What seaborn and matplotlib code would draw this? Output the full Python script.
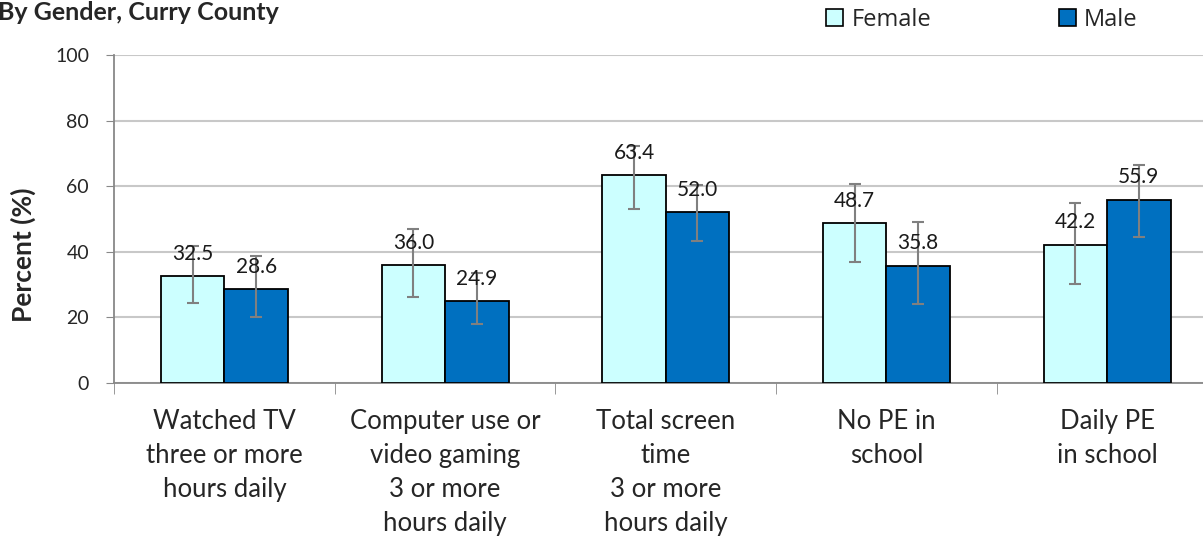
import pandas as pd
import matplotlib
matplotlib.use("Agg")
import matplotlib.pyplot as plt
import seaborn as sns
from matplotlib.patches import Patch

# dados
categorias = ["Watched TV\nthree or more\nhours daily",
              "Computer use or\nvideo gaming\n3 or more\nhours daily",
              "Total screen\ntime\n3 or more\nhours daily",
              "No PE in\nschool",
              "Daily PE\nin school"]
generos = ["Female", "Male"]
female = [32.5, 36.0, 63.4, 48.7, 42.2]
male = [28.6, 24.9, 52.0, 35.8, 55.9]
female_lo = [24.4, 26.3, 53.2, 36.8, 30.2]
female_hi = [41.8, 47.0, 72.4, 60.7, 55.0]
male_lo = [20.2, 17.9, 43.3, 24.1, 44.5]
male_hi = [38.6, 33.6, 60.5, 49.2, 66.5]
cores = {"Female": "#CCFFFF", "Male": "#0070C0"}

df = pd.DataFrame({
    "cat": categorias * 2,
    "sexo": ["Female"] * 5 + ["Male"] * 5,
    "pct": female + male,
    "lo": female_lo + male_lo,
    "hi": female_hi + male_hi,
})

sns.set_style("white")
plt.rcParams["font.family"] = ["Lato", "DejaVu Sans"]

fig = plt.figure(figsize=(12.03, 5.37), dpi=100)
ax = fig.add_axes([114 / 1203, 154 / 537, 1103.5 / 1203, 328 / 537])

sns.barplot(data=df, x="cat", y="pct", hue="sexo", hue_order=generos,
            palette=cores, saturation=1, edgecolor="black", linewidth=1.3,
            width=0.575, gap=0, errorbar=None, legend=False, ax=ax, zorder=3)

# barras de erro e rotulos em cima de cada barra
for i, sexo in enumerate(generos):
    sub = df[df["sexo"] == sexo]
    for j, (_, row) in enumerate(sub.iterrows()):
        p = ax.patches[i * 5 + j]
        xc = p.get_x() + p.get_width() / 2
        ax.errorbar(xc, row["pct"],
                    yerr=[[row["pct"] - row["lo"]], [row["hi"] - row["pct"]]],
                    fmt="none", ecolor="#808080", elinewidth=1.5,
                    capsize=4, capthick=1.5, zorder=4)
        ax.annotate(f"{row['pct']:.1f}", (xc, row["pct"]), xytext=(0, 16),
                    textcoords="offset points", ha="center", va="center",
                    fontsize=15, color="#1a1a1a", zorder=5)

ax.set_ylim(0, 100)
ax.set_yticks([0, 20, 40, 60, 80, 100])
ax.tick_params(axis="y", labelsize=14, length=6, color="#888888",
               direction="out", left=True, pad=12)
ax.yaxis.grid(True, color="#C8C8C8", linewidth=1.5, zorder=0)
ax.set_axisbelow(True)

ax.set_xlim(-0.5, 4.5)
ax.set_xticks(range(5))
ax.set_xticklabels(categorias, fontsize=18.5, linespacing=1.45)
ax.tick_params(axis="x", length=0, pad=19)
ax.set_xticks([-0.5, 0.5, 1.5, 2.5, 3.5, 4.5], minor=True)
ax.tick_params(axis="x", which="minor", length=8, color="#888888",
               direction="out", bottom=True)
ax.set_xlabel("")
ax.set_ylabel("Percent (%)", fontsize=19, fontweight="bold")
ax.yaxis.set_label_coords(-0.071, 0.39)

for lado in ["top", "right"]:
    ax.spines[lado].set_visible(False)
for lado in ["left", "bottom"]:
    ax.spines[lado].set_color("#888888")
    ax.spines[lado].set_linewidth(1.3)

fig.text(-0.002, 0.999, "By Gender, Curry County", fontsize=18,
         fontweight="bold", ha="left", va="top")

handles = [Patch(facecolor=cores[g], edgecolor="black", linewidth=1.2)
           for g in generos]
fig.legend(handles, generos, loc="center left",
           bbox_to_anchor=(826 / 1203, 1 - 20 / 537), ncol=2, frameon=False,
           handlelength=0.72, handleheight=0.72, handletextpad=0.35,
           columnspacing=5.4, borderpad=0, borderaxespad=0,
           prop={"family": ["Open Sans", "DejaVu Sans"], "size": 17})

fig.savefig("out.png", dpi=100)
